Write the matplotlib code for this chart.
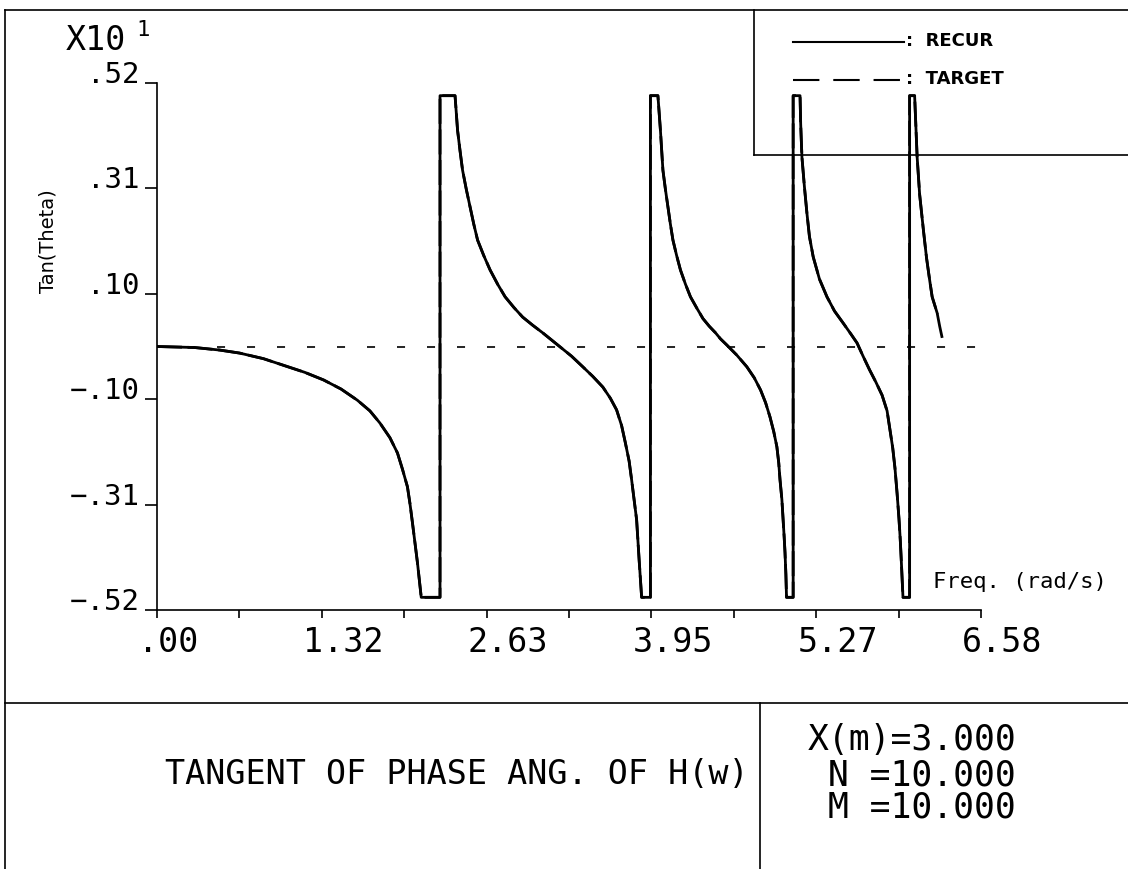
import matplotlib
matplotlib.use("Agg")
import matplotlib.pyplot as plt
from matplotlib.lines import Line2D
from matplotlib.transforms import ScaledTranslation

plt.rcParams['lines.scale_dashes'] = False
MONO = 'DejaVu Sans Mono'

# Frequency (rad/s) and tan(theta), branches are clipped near +/-4.95
freq = [0.00, 0.30, 0.50, 0.66, 0.85, 1.01, 1.18, 1.33, 1.47, 1.60, 1.70, 1.78, 1.86,
        1.92, 1.96, 2.00, 2.02, 2.04, 2.06, 2.08, 2.095, 2.11, 2.26,
        2.26, 2.38, 2.39, 2.40, 2.42, 2.44, 2.47, 2.50, 2.53, 2.56, 2.61, 2.66, 2.72,
        2.78, 2.85, 2.92, 3.00, 3.08, 3.15, 3.22, 3.31, 3.40, 3.48, 3.56, 3.62, 3.67,
        3.71, 3.74, 3.77, 3.79, 3.81, 3.83, 3.84, 3.85, 3.86, 3.87, 3.94,
        3.94, 4.00, 4.01, 4.02, 4.03, 4.04, 4.06, 4.08, 4.10, 4.12, 4.15, 4.18, 4.22,
        4.26, 4.31, 4.36, 4.41, 4.46, 4.50, 4.55, 4.63, 4.71, 4.77, 4.82, 4.86, 4.895,
        4.925, 4.95, 4.965, 4.975, 4.99, 5.00, 5.008, 5.015, 5.022, 5.027, 5.08,
        5.08, 5.135, 5.14, 5.15, 5.17, 5.19, 5.21, 5.24, 5.29, 5.35, 5.41, 5.48, 5.54,
        5.59, 5.64, 5.69, 5.74, 5.79, 5.83, 5.85, 5.875, 5.893, 5.91, 5.925, 5.935,
        5.943, 5.95, 5.957, 6.01,
        6.01, 6.05, 6.06, 6.07, 6.09, 6.12, 6.145, 6.17, 6.19, 6.23]
tan_recur = [0.00, -0.02, -0.07, -0.13, -0.24, -0.37, -0.51, -0.66, -0.84, -1.06, -1.27, -1.51, -1.80,
             -2.10, -2.42, -2.77, -3.10, -3.48, -3.88, -4.27, -4.62, -4.95, -4.95,
             4.95, 4.95, 4.62, 4.27, 3.86, 3.48, 3.10, 2.75, 2.41, 2.10, 1.79, 1.51, 1.23,
             0.98, 0.77, 0.58, 0.42, 0.27, 0.13, -0.01, -0.19, -0.40, -0.59, -0.80, -1.02, -1.25,
             -1.56, -1.90, -2.26, -2.63, -3.02, -3.42, -3.82, -4.21, -4.58, -4.95, -4.95,
             4.95, 4.95, 4.62, 4.27, 3.86, 3.48, 3.10, 2.75, 2.41, 2.10, 1.79, 1.51, 1.23,
             0.98, 0.76, 0.55, 0.40, 0.27, 0.15, 0.03, -0.17, -0.40, -0.62, -0.86, -1.11, -1.39,
             -1.68, -1.98, -2.30, -2.63, -3.02, -3.42, -3.75, -4.07, -4.50, -4.95, -4.95,
             4.95, 4.95, 4.40, 3.74, 3.15, 2.63, 2.17, 1.77, 1.33, 0.98, 0.70, 0.46, 0.25,
             0.07, -0.20, -0.46, -0.70, -0.96, -1.27, -1.60, -2.00, -2.40, -2.90, -3.40, -3.80,
             -4.20, -4.60, -4.95, -4.95,
             4.95, 4.95, 4.35, 3.74, 3.00, 2.30, 1.75, 1.31, 0.98, 0.66]

# TARGET lies on RECUR, only its last branch runs a little further
freq_target = freq + [6.25, 6.27]
tan_target = tan_recur + [0.40, 0.17]

x_ticks = [0.0, 0.658, 1.316, 1.974, 2.632, 3.29, 3.948, 4.606, 5.264, 5.922, 6.58]
x_labels = ['.00', '', '1.32', '', '2.63', '', '3.95', '', '5.27', '', '6.58']
y_ticks = [-5.2, -3.12, -1.04, 1.04, 3.12, 5.2]
y_labels = ['−.52', '−.31', '−.10', '.10', '.31', '.52']

W, H = 1128, 869


def fx(px):
    return px / W


def fy(py):
    return 1 - py / H


fig = plt.figure(figsize=(W / 100, H / 100), dpi=100)
ax = fig.add_axes([fx(157), fy(610), (981 - 157) / W, (610 - 83) / H])
ax.set_xlim(0, 6.58)
ax.set_ylim(-5.2, 5.2)
ax.patch.set_visible(False)
for s in ['top', 'right']:
    ax.spines[s].set_visible(False)
for s in ['left', 'bottom']:
    ax.spines[s].set_linewidth(1.2)

ax.set_xticks(x_ticks)
ax.set_yticks(y_ticks)
ax.tick_params(axis='x', direction='out', length=6, width=1.2, labelbottom=False)
ax.tick_params(axis='y', direction='out', length=8.5, width=1.2, labelleft=False)

# tick labels, plotter style: x labels start left of the tick, y labels sit on the tick
xoff = ScaledTranslation(-19 / 100, -42 / 100, fig.dpi_scale_trans)
for xv, lab in zip(x_ticks, x_labels):
    ax.text(xv, 0, lab, transform=ax.get_xaxis_transform() + xoff,
            ha='left', va='baseline', family=MONO, fontsize=24)
yoff = ScaledTranslation(-17 / 100, 0, fig.dpi_scale_trans)
for yv, lab in zip(y_ticks, y_labels):
    ax.text(0, yv, lab, transform=ax.get_yaxis_transform() + yoff,
            ha='right', va='baseline', family=MONO, fontsize=21)

ax.axhline(0, color='black', lw=1.2, ls=(0, (5.8, 15.8)))
ax.plot(freq_target, tan_target, color='black', lw=2.0, ls=(0, (18, 4)))
ax.plot(freq, tan_recur, color='black', lw=2.0)

# exponent and axis titles
fig.text(fx(66), fy(50), 'X10', family=MONO, fontsize=24, va='baseline')
fig.text(fx(136), fy(36), '1', family=MONO, fontsize=16, va='baseline')
fig.text(fx(48), fy(241), 'Tan(Theta)', rotation=90, ha='center', va='center',
         family='DejaVu Sans', fontsize=14)
fig.text(fx(933), fy(588), 'Freq. (rad/s)', family=MONO, fontsize=16, va='baseline')

# frame lines of the plotter sheet
frame = [([4.5, 4.5], [9.5, 869]), ([4.5, 1128], [9.5, 9.5]),
         ([4.5, 1128], [703, 703]), ([760, 760], [703, 869]),
         ([754, 754], [9.5, 155]), ([754, 1128], [155, 155])]
for xs, ys in frame:
    fig.add_artist(Line2D([fx(v) for v in xs], [fy(v) for v in ys],
                          transform=fig.transFigure, color='black', lw=1.2))

# legend
fig.add_artist(Line2D([fx(793), fx(904)], [fy(42), fy(42)], transform=fig.transFigure,
                      color='black', lw=1.5))
fig.add_artist(Line2D([fx(793), fx(904)], [fy(80), fy(80)], transform=fig.transFigure,
                      color='black', lw=1.5, ls=(0, (19, 10))))
fig.text(fx(906), fy(46), ':  RECUR', fontsize=13, fontweight='bold', va='baseline')
fig.text(fx(906), fy(84), ':  TARGET', fontsize=13, fontweight='bold', va='baseline')

# title block
fig.text(fx(457), fy(775), 'TANGENT OF PHASE ANG. OF H(w)', family=MONO, fontsize=24,
         ha='center', va='center')
fig.text(fx(1016), fy(740), 'X(m)=3.000', family=MONO, fontsize=25, ha='right', va='center')
fig.text(fx(1016), fy(775), ' N =10.000', family=MONO, fontsize=25, ha='right', va='center')
fig.text(fx(1016), fy(808), ' M =10.000', family=MONO, fontsize=25, ha='right', va='center')

fig.savefig('out.png', dpi=100)
